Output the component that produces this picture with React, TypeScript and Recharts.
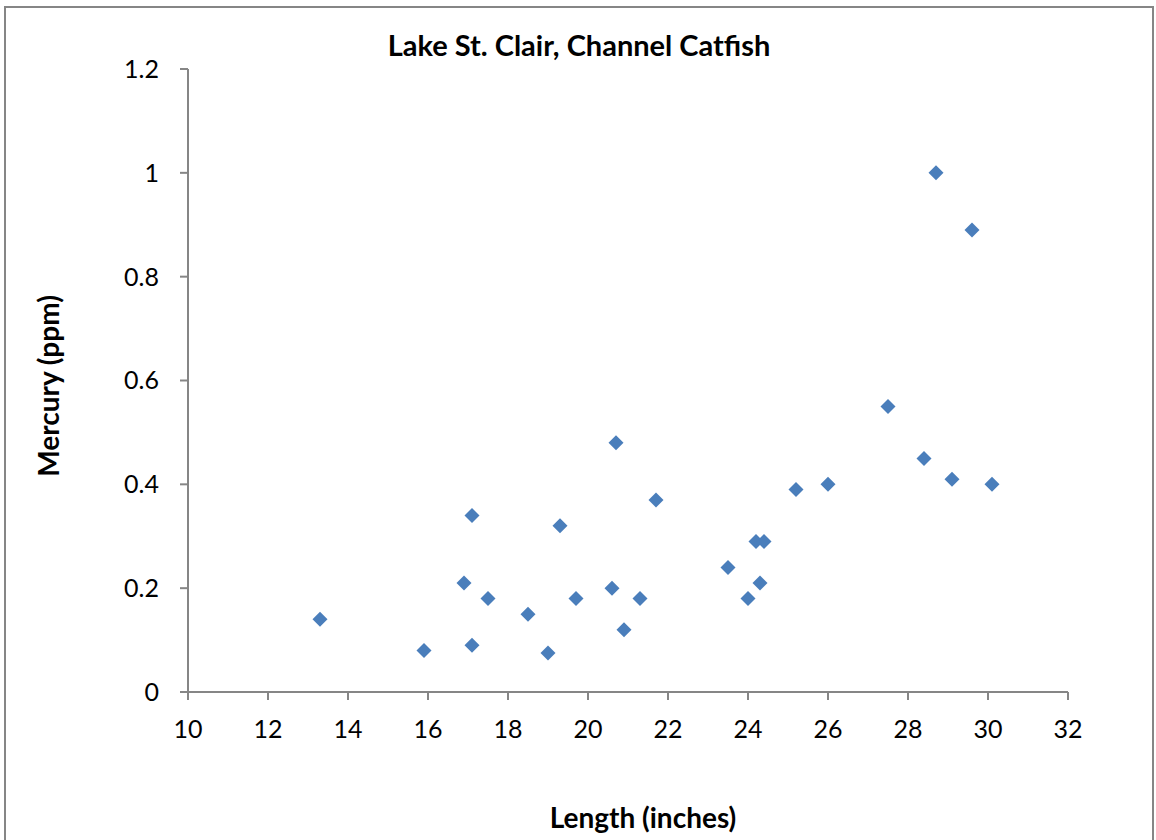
import { ScatterChart, Scatter, XAxis, YAxis } from "recharts"

const lengths = [
  13.3, 15.9, 16.9, 17.1, 17.1, 17.5, 18.5, 19.0, 19.3, 19.7, 20.6, 20.7, 20.9, 21.3,
  21.7, 23.5, 24.0, 24.2, 24.4, 24.3, 25.2, 26.0, 27.5, 28.4, 28.7, 29.1, 29.6, 30.1,
]
const mercury = [
  0.14, 0.08, 0.21, 0.34, 0.09, 0.18, 0.15, 0.075, 0.32, 0.18, 0.2, 0.48, 0.12, 0.18,
  0.37, 0.24, 0.18, 0.29, 0.29, 0.21, 0.39, 0.4, 0.55, 0.45, 1.0, 0.41, 0.89, 0.4,
]
const xTicks = [10, 12, 14, 16, 18, 20, 22, 24, 26, 28, 30, 32]
const yTicks = [0, 0.2, 0.4, 0.6, 0.8, 1, 1.2]

const data = lengths.map((len, i) => ({ length: len, mercury: mercury[i] }))

const FONT = "Lato, 'Open Sans', sans-serif"
const AXIS_GRAY = "#868686"

const Diamond = (props: any) => {
  const { cx, cy } = props
  if (cx == null || cy == null) return null
  const r = 7.5
  return (
    <path
      d={`M${cx},${cy - r}L${cx + r},${cy}L${cx},${cy + r}L${cx - r},${cy}Z`}
      fill="#4a7ebb"
    />
  )
}

export default function App() {
  return (
    <div style={{ position: "absolute", left: 0, top: 0, width: 1156, height: 840, background: "#fff", overflow: "hidden", fontFamily: FONT }}>
      <div
        style={{
          position: "absolute",
          left: 4,
          top: 6,
          width: 1146,
          height: 860,
          border: `2px solid ${AXIS_GRAY}`,
        }}
      />
      <div
        style={{
          position: "absolute",
          left: 0,
          width: 1158,
          top: 28,
          textAlign: "center",
          fontWeight: 700,
          fontSize: 29,
          lineHeight: "34px",
          color: "#000",
        }}
      >
        Lake St. Clair, Channel Catfish
      </div>
      <div
        style={{
          position: "absolute",
          left: 643 - 200,
          width: 400,
          top: 800,
          textAlign: "center",
          fontWeight: 700,
          fontSize: 28,
          lineHeight: "34px",
          color: "#000",
        }}
      >
        Length (inches)
      </div>
      <div
        style={{
          position: "absolute",
          left: 48 - 200,
          top: 386 - 17,
          width: 400,
          textAlign: "center",
          fontWeight: 700,
          fontSize: 28,
          lineHeight: "34px",
          color: "#000",
          transform: "rotate(-90deg)",
        }}
      >
        Mercury (ppm)
      </div>
      <div style={{ position: "absolute", left: 0, top: 0 }}>
        <ScatterChart width={1156} height={840} margin={{ top: 69, right: 88, bottom: 0, left: 0 }}>
          <XAxis
            type="number"
            dataKey="length"
            domain={[10, 32]}
            ticks={xTicks}
            interval={0}
            height={148}
            tickSize={8}
            tickMargin={20}
            stroke={AXIS_GRAY}
            strokeWidth={2}
            tick={{ fontSize: 25, fill: "#000", fontFamily: FONT }}
          />
          <YAxis
            type="number"
            dataKey="mercury"
            domain={[0, 1.2]}
            ticks={yTicks}
            interval={0}
            width={188}
            tickSize={8}
            tickMargin={21}
            stroke={AXIS_GRAY}
            strokeWidth={2}
            tick={{ fontSize: 25, fill: "#000", fontFamily: FONT }}
          />
          <Scatter data={data} shape={<Diamond />} isAnimationActive={false} />
        </ScatterChart>
      </div>
    </div>
  )
}
